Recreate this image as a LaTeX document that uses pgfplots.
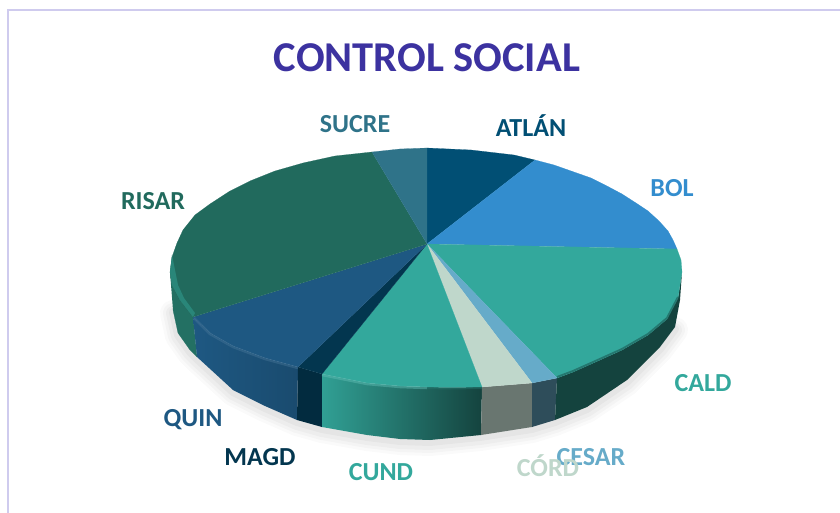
\documentclass[border=0pt]{standalone}
\usepackage{pgfplots}
\usepackage{pgfplotstable}
\usepackage{fontspec}
\setmainfont{Carlito}
\pgfplotsset{compat=1.18}
\definecolor{cAtl}{HTML}{014F74}
\definecolor{cBol}{HTML}{338DCE}
\definecolor{cCal}{HTML}{33A89C}
\definecolor{cCes}{HTML}{66ABC9}
\definecolor{cCor}{HTML}{BFD7CB}
\definecolor{cCun}{HTML}{33A89C}
\definecolor{cMag}{HTML}{03364F}
\definecolor{cQui}{HTML}{1E5882}
\definecolor{cRis}{HTML}{216A5D}
\definecolor{cSuc}{HTML}{2F7389}
\definecolor{cTit}{HTML}{3C32A0}
\definecolor{cFrm}{HTML}{CFCBEE}
\pgfplotstableread{
x y
173 310
178 333
190 350
197 357
233 390
265 406
297 420
322 427
367 435
400 439
430 440
480 435
532 427
555 420
587 407
627 380
660 347
675 327
}\silhouette
\newcommand{\lab}[4]{\node[font=\fontsize{#4}{#4}\selectfont\bfseries,text=#3,anchor=center,inner sep=0pt] at (axis cs:#1) {#2};}
\begin{document}
\begin{tikzpicture}
\begin{axis}[
  width=840pt,height=513pt,scale only axis,
  xmin=0,xmax=840,ymin=0,ymax=513,y dir=reverse,
  hide axis,clip=true]
% page
\addplot[fill=white,draw=white] coordinates {(0,0) (840,0) (840,513) (0,513)};
% frame
\addplot[cFrm,line width=1.3pt] coordinates {(8,513) (8,10) (840,10)};
% shadow
\addplot[black,opacity=0.018,line width=26pt,line join=round,line cap=round] table[x=x,y expr=\thisrow{y}+3] {\silhouette};
\addplot[black,opacity=0.022,line width=20pt,line join=round,line cap=round] table[x=x,y expr=\thisrow{y}+3] {\silhouette};
\addplot[black,opacity=0.026,line width=14pt,line join=round,line cap=round] table[x=x,y expr=\thisrow{y}+3] {\silhouette};
\addplot[black,opacity=0.03,line width=8pt,line join=round,line cap=round] table[x=x,y expr=\thisrow{y}+2] {\silhouette};
% sides
\addplot[fill=cRis!90!cCal,draw=cRis!90!cCal,line width=.2pt] coordinates {(170,272) (172,285) (180,300) (193,317) (197,357) (190,350) (178,333) (173,310)};
\addplot[left color=cQui,right color=cQui!85!black,draw=none] coordinates {(193,317) (210,333) (233,346) (265,358) (298,367) (297,420) (265,406) (233,390) (197,357)};
\addplot[fill=cMag!80!black,draw=none] coordinates {(298,367) (322,374) (322,427) (297,420)};
\addplot[left color=cCun!95!black,right color=cCun!40!black,draw=none] coordinates {(322,374) (367,383) (400,386) (427,387) (450,387.5) (482,387) (481,435) (430,440) (400,439) (367,435) (322,427)};
\addplot[fill=black!45!cCor,draw=none] coordinates {(482,387) (532,383) (532,427) (481,435)};
\addplot[fill=cCes!45!black,draw=none] coordinates {(532,383) (557,378) (555,420) (532,427)};
\addplot[fill=cCal!40!black,draw=none] coordinates {(557,378) (573,372) (591,364) (622,350) (648,335) (667,319) (678,298) (682,272) (680,300) (675,327) (660,347) (627,380) (587,407) (555,420)};
% top face
\addplot[fill=cAtl,draw=cAtl,line width=.2pt] coordinates {(427,244) (427,148) (471,150) (514,155) (535,160)};
\addplot[fill=cBol,draw=cBol,line width=.2pt] coordinates {(427,244) (535,160) (554,165) (591,178) (606,185.5) (622,194) (636,203) (648,211) (659,221) (668,231) (673,240) (677,249)};
\addplot[fill=cCal,draw=cCal,line width=.2pt] coordinates {(427,244) (677,249) (681,260) (682,272) (678,298) (667,319) (648,335) (622,350) (591,364) (573,372) (557,378)};
\addplot[fill=cCes,draw=cCes,line width=.2pt] coordinates {(427,244) (557,378) (532,383)};
\addplot[fill=cCor,draw=cCor,line width=.2pt] coordinates {(427,244) (532,383) (482,387)};
\addplot[fill=cCun,draw=cCun,line width=.2pt] coordinates {(427,244) (482,387) (450,387.5) (427,387) (400,386) (367,383) (322,374)};
\addplot[fill=cMag,draw=cMag,line width=.2pt] coordinates {(427,244) (322,374) (298,367)};
\addplot[fill=cQui,draw=cQui,line width=.2pt] coordinates {(427,244) (298,367) (265,358) (233,346) (210,333) (193,317)};
\addplot[fill=cRis,draw=cRis,line width=.2pt] coordinates {(427,244) (193,317) (180,300) (172,285) (170,272) (172,257) (177,243) (183,230) (195,215) (210,204) (230,191) (250,181) (275,171) (303,163) (335,156) (372,152)};
\addplot[fill=cSuc,draw=cSuc,line width=.2pt] coordinates {(427,244) (372,152) (400,149) (427,148)};
% bevel highlights
\addplot[cCal!80!white,opacity=.5,line width=2.5pt] coordinates {(322,375) (367,384) (400,387) (427,388)};
\addplot[cCal!70!black,opacity=.45,line width=2pt] coordinates {(427,388) (450,388.5) (482,388)};
\addplot[cQui!80!white,opacity=.4,line width=2.5pt] coordinates {(194,318) (210,334) (233,347) (265,359) (298,368)};
\addplot[fill=cRis!55!cCal,draw=none] coordinates {(172,255) (170,272) (172,285) (180,300) (193,317) (195,313) (184,298) (178,285) (175,270)};
\addplot[cCal!60!black,opacity=.7,line width=2pt] coordinates {(557,377) (573,371) (591,363) (622,349) (648,334) (667,318) (678,297)};
% labels
\node[font=\fontsize{42.5}{42.5}\selectfont\bfseries,text=cTit,anchor=center,inner sep=0pt] at (axis cs:427,58) {CONTROL SOCIAL};
\lab{355,124}{SUCRE}{cSuc}{26}
\lab{531,126}{ATLÁN}{cAtl}{26}
\lab{672,188}{BOL}{cBol}{26}
\lab{703,383}{CALD}{cCal}{26}
\lab{591,457}{CESAR}{cCes}{26}
\lab{548,466}{CÓRD}{cCor}{26}
\lab{381,472}{CUND}{cCal}{26}
\lab{260,457}{MAGD}{cMag}{26}
\lab{193,420}{QUIN}{cQui}{26}
\lab{153,201}{RISAR}{cRis}{26}
\end{axis}
\end{tikzpicture}
\end{document}
